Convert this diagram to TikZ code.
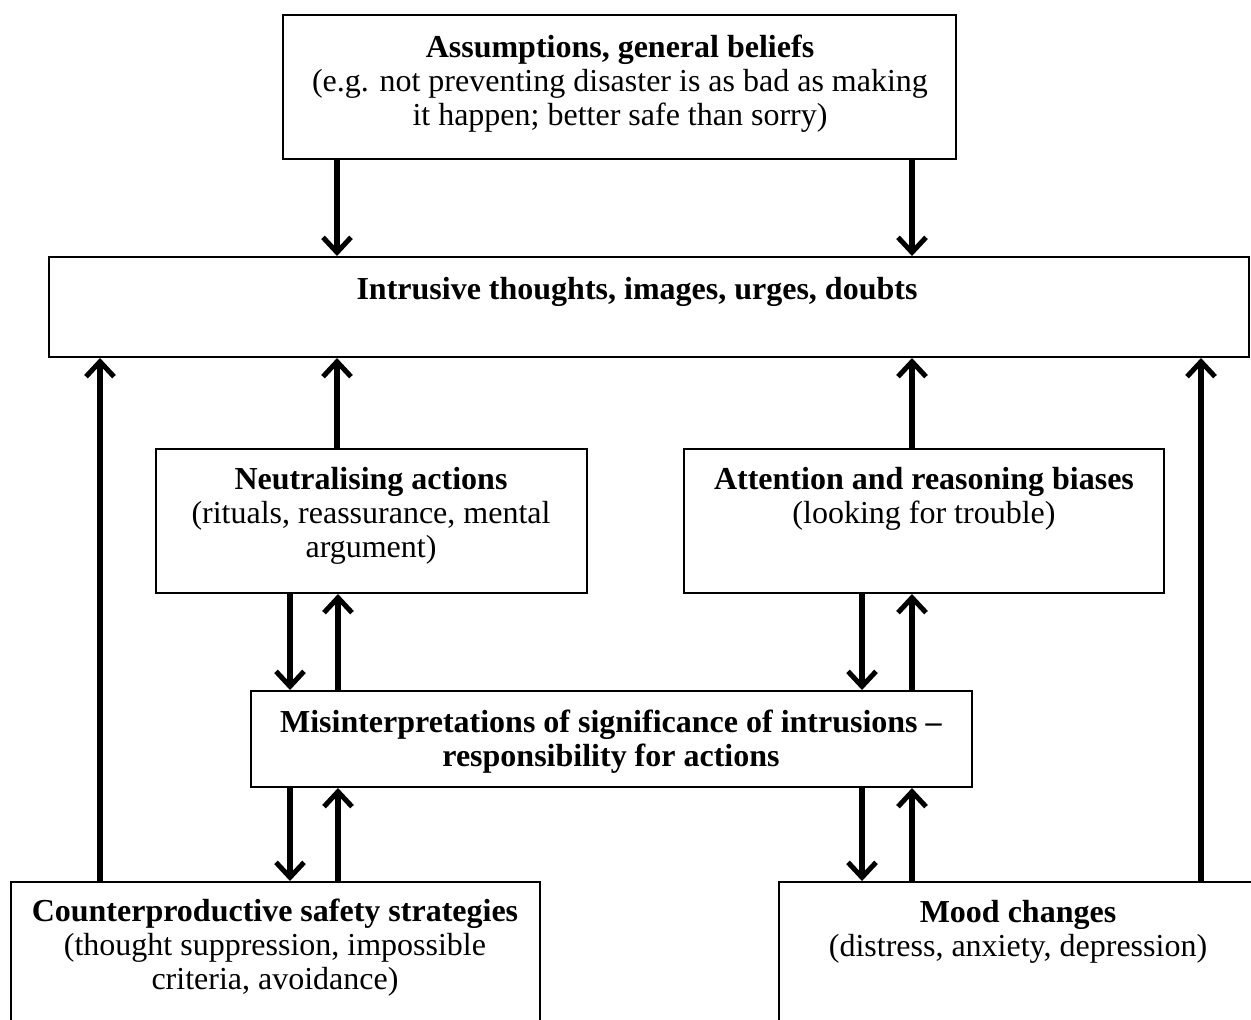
\documentclass[tikz,border=0pt]{standalone}
\usepackage{fontspec}
\setmainfont{Liberation Serif}
\usetikzlibrary{arrows.meta}
\begin{document}
\begin{tikzpicture}[x=0.5pt,y=-0.5pt,
  box/.style={draw, line width=1pt, inner sep=0pt, fill=none},
  lbl/.style={align=center, inner sep=0pt, font=\fontsize{16}{17}\selectfont},
  arr/.style={line width=3pt, -{Straight Barb[length=7.5pt,width=14pt,line width=2.5pt]}}]
\useasboundingbox (0,0) rectangle (1251,1019);
\clip (0,0) rectangle (1251,1019);
% boxes
\node[box, minimum width=336.5pt, minimum height=72pt] (top) at (619.5,87) {};
\node[box, minimum width=600pt, minimum height=50pt] (intr) at (649,307) {};
\node[box, minimum width=215.5pt, minimum height=72pt] (neut) at (371.5,521) {};
\node[box, minimum width=240pt, minimum height=72pt] (att) at (924,521) {};
\node[box, minimum width=360.5pt, minimum height=48pt] (mis) at (611.5,739) {};
\node[box, minimum width=264.5pt, minimum height=89pt] (cnt) at (275.5,971) {};
\node[box, minimum width=243pt, minimum height=89pt] (mood) at (1022,971) {};
% labels
\node[lbl] (topl) at (620,84) {\textbf{Assumptions, general beliefs}\\(e.g. not preventing disaster is as bad as making\\it happen; better safe than sorry)};
\node[lbl] (intrl) at (637,292) {\textbf{Intrusive thoughts, images, urges, doubts}};
\node[lbl] (neutl) at (371,516) {\textbf{Neutralising actions}\\(rituals, reassurance, mental\\argument)};
\node[lbl] (attl) at (924,499) {\textbf{Attention and reasoning biases}\\(looking for trouble)};
\node[lbl] (misl) at (611,742) {\textbf{Misinterpretations of significance of intrusions –}\\\textbf{responsibility for actions}};
\node[lbl] (cntl) at (275,948) {\textbf{Counterproductive safety strategies}\\(thought suppression, impossible\\criteria, avoidance)};
\node[lbl] (moodl) at (1018,932) {\textbf{Mood changes}\\(distress, anxiety, depression)};
% arrows top -> intrusive
\draw[arr] (337,0 |- top.south) -- (337,0 |- intr.north);
\draw[arr] (912,0 |- top.south) -- (912,0 |- intr.north);
% up arrows to intrusive
\draw[arr] (100,0 |- cnt.north) -- (100,0 |- intr.south);
\draw[arr] (337,0 |- neut.north) -- (337,0 |- intr.south);
\draw[arr] (912,0 |- att.north) -- (912,0 |- intr.south);
\draw[arr] (1201,0 |- mood.north) -- (1201,0 |- intr.south);
% neutralising <-> misinterpretation
\draw[arr] (290,0 |- neut.south) -- (290,0 |- mis.north);
\draw[arr] (338,0 |- mis.north) -- (338,0 |- neut.south);
\draw[arr] (862,0 |- att.south) -- (862,0 |- mis.north);
\draw[arr] (912,0 |- mis.north) -- (912,0 |- att.south);
% misinterpretation <-> bottom boxes
\draw[arr] (290,0 |- mis.south) -- (290,0 |- cnt.north);
\draw[arr] (338,0 |- cnt.north) -- (338,0 |- mis.south);
\draw[arr] (862,0 |- mis.south) -- (862,0 |- mood.north);
\draw[arr] (912,0 |- mood.north) -- (912,0 |- mis.south);
\end{tikzpicture}
\end{document}
